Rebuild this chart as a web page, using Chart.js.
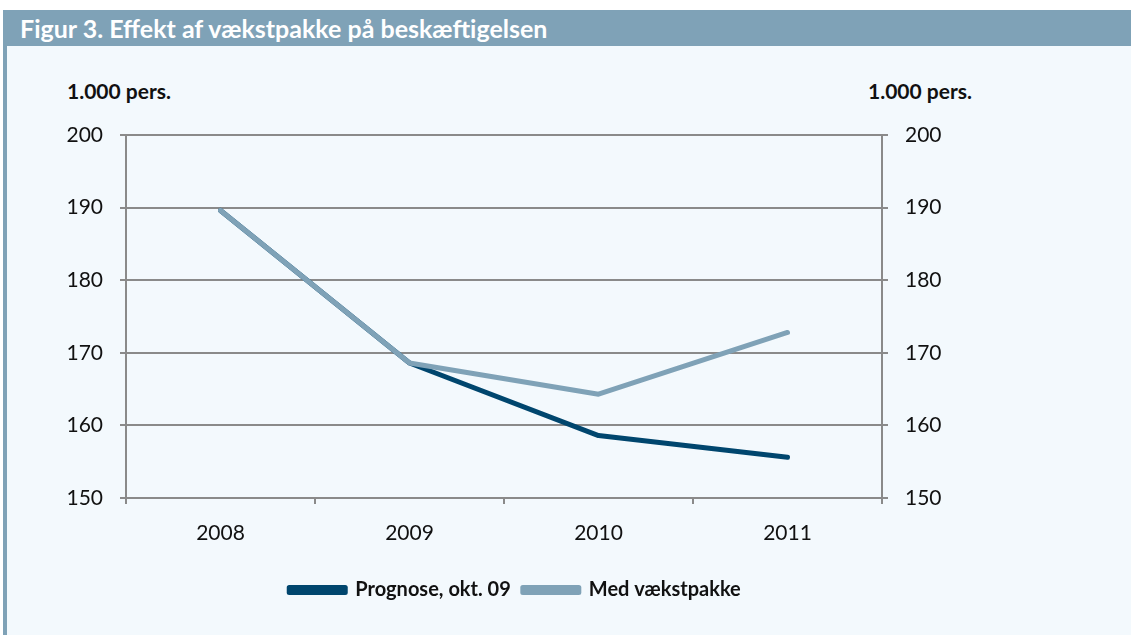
<!DOCTYPE html>
<html>
<head>
<meta charset="utf-8">
<script src="https://cdn.jsdelivr.net/npm/chart.js@4.4.1/dist/chart.umd.min.js"></script>
<style>
  body { margin: 0; background: #ffffff; width: 1131px; height: 635px; overflow: hidden; position: relative; font-family: Lato, "Open Sans", sans-serif; }
  #titlebar { position: absolute; left: 3px; top: 10px; width: 1128px; height: 36px; background: #7fa2b7; color: #fff; font-weight: bold; font-size: 25px; line-height: 36px; padding-left: 17px; box-sizing: border-box; }
  #panel { position: absolute; left: 3px; top: 46px; width: 1128px; height: 589px; background: #f3f9fd; border-left: 4px solid #7fa2b7; box-sizing: border-box; }
  .unit { position: absolute; top: 78px; font-weight: bold; font-size: 21px; color: #111; }
  #chartbox { position: absolute; left: 7px; top: 46px; }
</style>
</head>
<body>
<div id="titlebar">Figur 3. Effekt af vækstpakke på beskæftigelsen</div>
<div id="panel"></div>
<div class="unit" style="left:67px">1.000 pers.</div>
<div class="unit" style="left:868px">1.000 pers.</div>
<div id="chartbox"><canvas id="chart" width="1124" height="589"></canvas></div>
<script>
// data (1.000 persons)
const years = ['2008', '2009', '2010', '2011'];
const prognose = [189.6, 168.6, 158.6, 155.6];
const medVaekstpakke = [189.6, 168.6, 164.3, 172.8];
const yTicks = [150, 160, 170, 180, 190, 200];

const gridColor = '#8a8a8a';
const tickFont = { family: 'Lato', size: 21 };

new Chart(document.getElementById('chart').getContext('2d'), {
    type: 'line',
    data: {
        labels: years,
        datasets: [
            {
                label: 'Prognose, okt. 09',
                data: prognose,
                borderColor: '#00466e',
                backgroundColor: '#00466e',
                borderWidth: 5,
                borderCapStyle: 'round',
                borderJoinStyle: 'round',
                pointRadius: 0,
                tension: 0,
                order: 1,  // light line drawn on top
                yAxisID: 'y'
            },
            {
                label: 'Med vækstpakke',
                data: medVaekstpakke,
                borderColor: '#7fa2b7',
                backgroundColor: '#7fa2b7',
                borderWidth: 5,
                borderCapStyle: 'round',
                borderJoinStyle: 'round',
                pointRadius: 0,
                tension: 0,
                order: 0,
                yAxisID: 'y'
            }
        ]
    },
    options: {
        responsive: false,
        animation: false,
        // right padding shifts the centred legend to the left like in the original
        layout: { padding: { top: 89, bottom: 25, left: 0, right: 108 } },
        scales: {
            x: {
                offset: true,
                border: { display: false },
                grid: { offset: true, drawOnChartArea: false, drawTicks: true, tickLength: 6, color: gridColor, lineWidth: 2 },
                ticks: { font: tickFont, color: '#111', padding: 17, maxRotation: 0 },
                afterFit: scale => { scale.height = 70; }
            },
            y: {
                position: 'left',
                min: 150,
                max: 200,
                afterBuildTicks: scale => { scale.ticks = yTicks.map(v => ({ value: v })); },
                border: { display: true, color: gridColor, width: 2 },
                grid: { color: gridColor, lineWidth: 2, tickLength: 6 },
                ticks: { font: tickFont, color: '#111', padding: 17 },
                afterFit: scale => { scale.width = 119; }
            },
            y2: {
                position: 'right',
                min: 150,
                max: 200,
                afterBuildTicks: scale => { scale.ticks = yTicks.map(v => ({ value: v })); },
                border: { display: true, color: gridColor, width: 2 },
                grid: { drawOnChartArea: false, color: gridColor, lineWidth: 2, tickLength: 6 },
                ticks: { font: tickFont, color: '#111', padding: 17 },
                afterFit: scale => { scale.width = 141; }
            }
        },
        plugins: {
            legend: {
                position: 'bottom',
                labels: {
                    boxWidth: 56,
                    boxHeight: 5,
                    padding: 12,
                    color: '#111',
                    font: { family: 'Lato', size: 20, weight: 'bold' },
                    sort: (a, b) => a.datasetIndex - b.datasetIndex
                }
            },
            tooltip: { enabled: false }
        }
    }
});
</script>
</body>
</html>
